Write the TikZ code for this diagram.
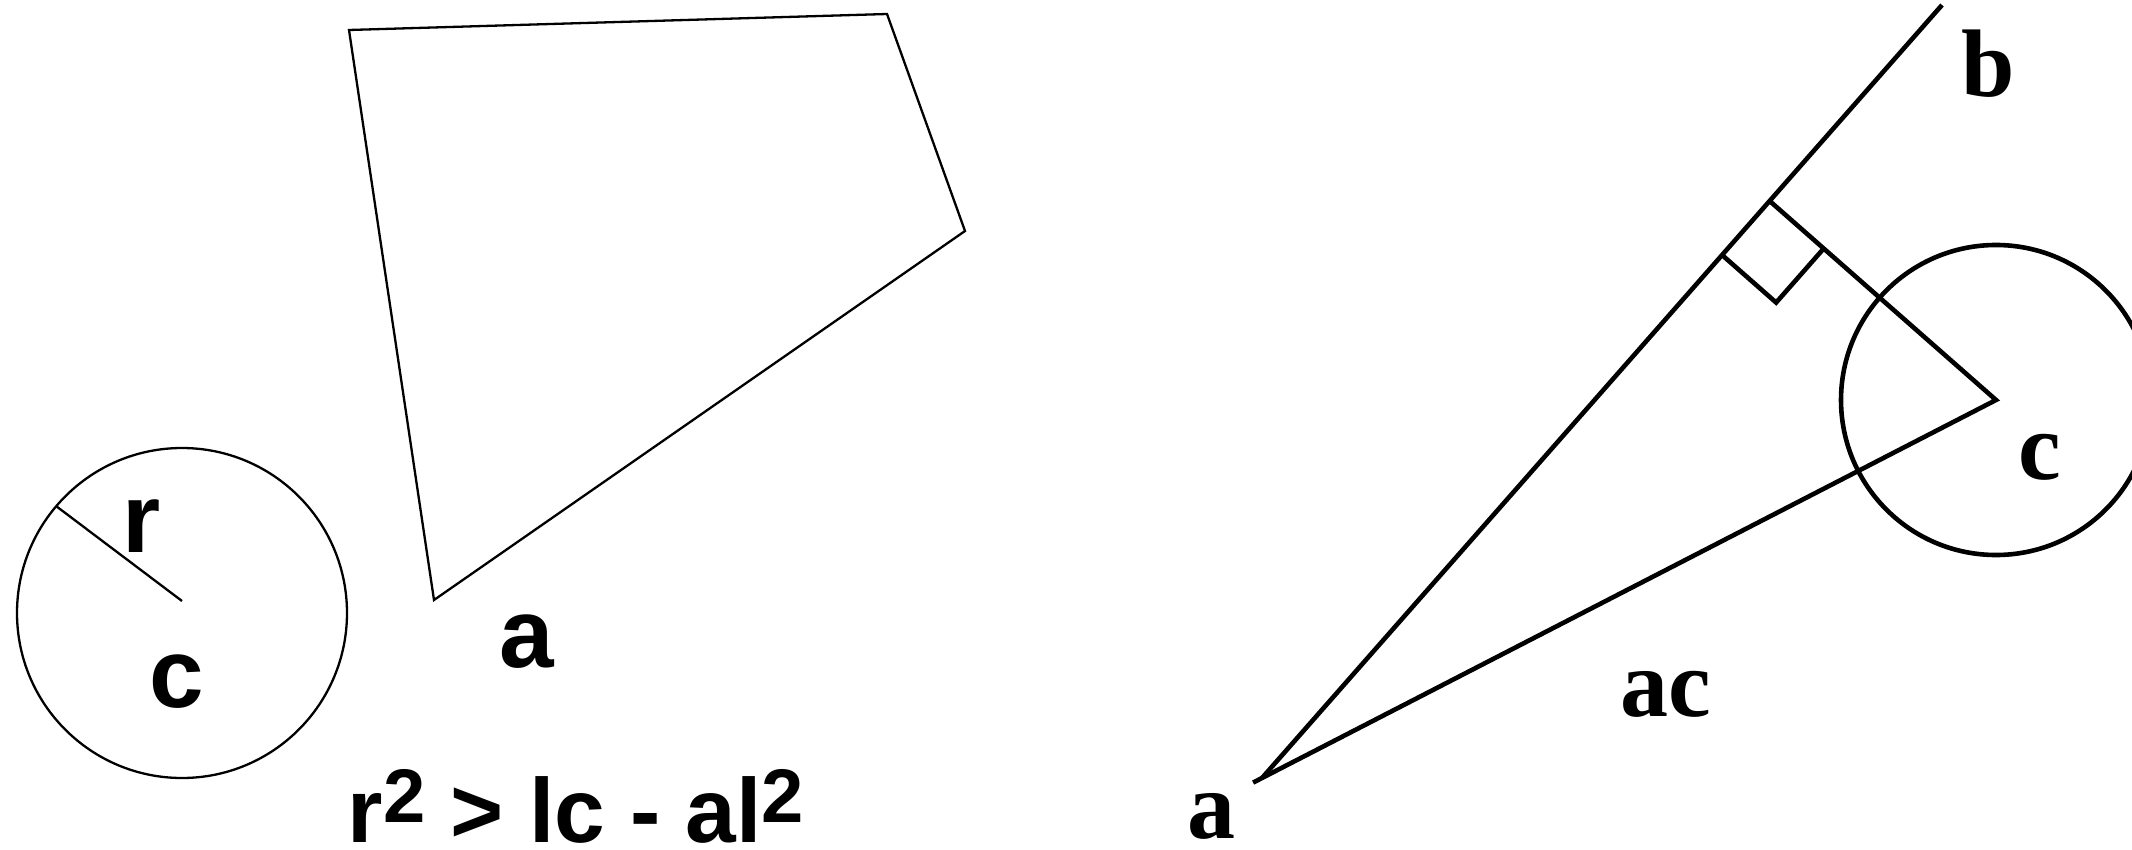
\documentclass[tikz,border=0pt]{standalone}
\usepackage{fontspec}
\setmainfont{Liberation Serif}
\newfontfamily\helv{Liberation Sans}
\usetikzlibrary{calc}

\begin{document}
\begin{tikzpicture}[x=1pt,y=-1pt,
thinline/.style={draw,line width=2.3pt,line join=miter},
thickline/.style={draw,line width=4.6pt},
sanslabel/.style={inner sep=0pt,font=\helv\bfseries\fontsize{98}{100}\selectfont},
seriflabel/.style={inner sep=0pt,font=\bfseries\fontsize{96}{100}\selectfont}
]
\useasboundingbox (0,0) rectangle (2132,850);
% left: circle and polygon
\coordinate (cl) at (182,613);
\coordinate (rim) at (56,506);
\coordinate (rend) at (182,601);
\draw[thinline] (cl) circle (165);
\draw[thinline] (rim)--(rend);
\draw[thinline] (349,30)--(887,14)--(965,231)--(434,600)--cycle;
\node[sanslabel] (rlab) at (142,526) {r};
\node[sanslabel] (clab) at (177,682) {c};
\node[sanslabel] (alab) at (527,642) {a};
\node[sanslabel,font=\helv\bfseries\fontsize{91}{94}\selectfont] (rule) at (576,806) {r\raisebox{20pt}{\fontsize{76}{78}\selectfont 2} > lc - al\raisebox{20pt}{\fontsize{76}{78}\selectfont 2}};
% right: segment and perpendicular
\coordinate (a) at (1262,778);
\coordinate (b) at (1942,5);
\coordinate (c) at (1996,400);
\coordinate (foot) at ($(a)!(c)!(b)$);
\coordinate (m1) at ($(foot)!72pt!(a)$);
\coordinate (m2) at ($(foot)!72pt!(c)$);
\coordinate (m3) at ($(m1)+(m2)-(foot)$);
\draw[thickline] (a)--(b);
\draw[thickline] ($(a)!-10pt!(c)$)--(c)--(foot);
\draw[thickline] (m1)--(m3)--(m2);
\draw[thickline] (c) circle (155);
\node[seriflabel] (blab) at (1988,64) {b};
\node[seriflabel] (crlab) at (2040,457) {c};
\node[seriflabel] (aclab) at (1666,694) {ac};
\node[seriflabel] (arlab) at (1211,816) {a};
\end{tikzpicture}
\end{document}
